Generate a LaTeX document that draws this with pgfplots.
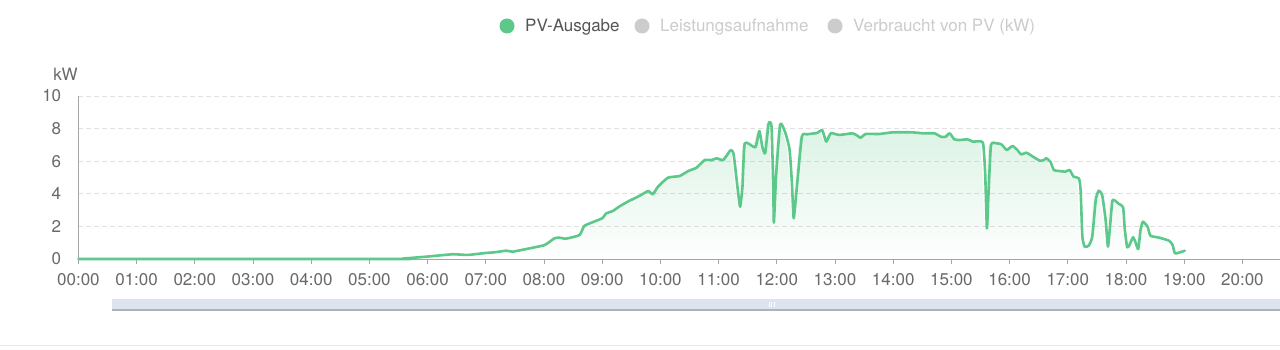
\documentclass[border=0pt]{standalone}
\usepackage{pgfplots}
\pgfplotsset{compat=1.18}
\usepackage{pgfplotstable}
\usetikzlibrary{fadings}
\usepackage{fontspec}
\setmainfont{TeX Gyre Heros}
\definecolor{pvgreen}{RGB}{92,200,138}
\definecolor{axisgray}{RGB}{165,165,165}
\definecolor{labelgray}{RGB}{105,105,105}
\definecolor{gridgray}{RGB}{224,224,224}
\definecolor{leggray}{RGB}{204,204,204}
\definecolor{legtext}{RGB}{85,85,85}
\definecolor{sliderfill}{RGB}{222,227,240}
\definecolor{sliderline}{RGB}{175,178,185}

\pgfplotstableread{
h v
0 0
5.50 0
5.56 0.02
6.00 0.15
6.43 0.29
6.69 0.25
7.00 0.37
7.15 0.41
7.35 0.51
7.46 0.45
7.75 0.65
8.00 0.84
8.06 0.96
8.18 1.27
8.26 1.31
8.38 1.25
8.61 1.47
8.69 2.02
8.83 2.25
9.00 2.50
9.07 2.80
9.18 2.94
9.29 3.21
9.44 3.52
9.64 3.87
9.79 4.17
9.87 3.97
9.96 4.44
10.13 4.99
10.33 5.09
10.48 5.40
10.62 5.60
10.76 6.07
10.88 6.07
10.97 6.18
11.08 6.07
11.21 6.69
11.26 6.38
11.33 4.23
11.37 3.21
11.41 4.44
11.45 7.10
11.63 6.85
11.70 7.85
11.75 6.89
11.80 6.48
11.86 8.32
11.91 8.12
11.94 4.23
11.95 2.23
11.99 5.26
12.06 8.28
12.15 7.71
12.22 6.69
12.26 4.64
12.29 2.50
12.34 4.23
12.43 7.50
12.52 7.65
12.69 7.73
12.78 7.91
12.85 7.20
12.93 7.72
13.07 7.61
13.30 7.71
13.39 7.55
13.44 7.44
13.53 7.67
13.76 7.67
13.99 7.77
14.33 7.77
14.51 7.71
14.71 7.71
14.82 7.50
14.90 7.50
14.97 7.71
15.05 7.34
15.14 7.30
15.28 7.34
15.37 7.20
15.54 7.14
15.58 5.26
15.61 1.88
15.64 4.23
15.68 6.99
15.77 7.10
15.86 7.03
15.95 6.69
16.05 6.93
16.13 6.69
16.20 6.42
16.29 6.52
16.40 6.28
16.52 6.03
16.59 6.07
16.63 6.18
16.70 5.97
16.76 5.46
16.85 5.40
16.96 5.36
17.03 5.46
17.10 5.05
17.19 4.95
17.22 4.23
17.25 1.37
17.29 0.76
17.36 0.82
17.42 1.37
17.48 3.62
17.53 4.19
17.59 3.93
17.65 2.39
17.69 0.76
17.73 2.19
17.77 3.62
17.88 3.37
17.95 3.17
17.98 1.78
18.02 0.72
18.06 0.86
18.12 1.33
18.16 1.06
18.21 0.61
18.25 1.78
18.29 2.29
18.37 1.98
18.42 1.43
18.57 1.31
18.74 1.12
18.80 0.86
18.84 0.35
18.91 0.39
19.01 0.51
}\pvdata

\begin{document}
\fontsize{17}{20}\selectfont
\begin{tikzpicture}
\fill[white] (0pt,0pt) rectangle (1280pt,-350pt);
\path[use as bounding box] (0pt,0pt) rectangle (1280pt,-350pt);

\begin{axis}[
  at={(78.4pt,-259pt)}, anchor=south west,
  scale only axis, width=1201.6pt, height=163pt,
  xmin=0, xmax=20.646, ymin=0, ymax=10,
  separate axis lines,
  axis x line*=bottom, axis y line*=left,
  axis line style={axisgray, line width=1pt, -},
  xtick={0,1,...,20},
  xticklabels={00:00,01:00,02:00,03:00,04:00,05:00,06:00,07:00,08:00,09:00,10:00,11:00,12:00,13:00,14:00,15:00,16:00,17:00,18:00,19:00,20:00},
  ytick={0,2,...,10},
  ymajorgrids,
  grid style={gridgray, dash pattern=on 5pt off 3pt, line width=0.9pt},
  tick align=outside,
  major tick length=5pt,
  xtick style={axisgray, line width=1pt},
  ytick style={draw=none},
  tick label style={text=labelgray, font=\fontsize{17}{20}\selectfont},
  xticklabel style={anchor=north, inner sep=0pt, yshift=-9pt},
  yticklabel style={anchor=east, inner sep=0pt, xshift=-12pt},
  /pgf/number format/assume math mode=true,
  clip=false,
]
\addplot[draw=none, fill=pvgreen, fill opacity=0.22, path fading=south] table[x=h, y=v] {\pvdata} \closedcycle;
\addplot[pvgreen, line width=2.6pt, smooth, tension=0.3, line join=round, line cap=round] table[x=h, y=v] {\pvdata};
\end{axis}

% y axis name
\node[anchor=base, inner sep=0pt, text=labelgray] at (65.5pt,-81pt) {kW};

% legend
\fill[pvgreen] (507pt,-26pt) circle (7.5pt);
\node[anchor=base west, inner sep=0pt, text=legtext] at (525pt,-32pt) {PV-Ausgabe};
\fill[leggray] (642pt,-26pt) circle (7.5pt);
\node[anchor=base west, inner sep=0pt, text=leggray] at (660pt,-32pt) {Leistungsaufnahme};
\fill[leggray] (835pt,-26pt) circle (7.5pt);
\node[anchor=base west, inner sep=0pt, text=leggray] at (853pt,-32pt) {Verbraucht von PV (kW)};

% data zoom slider
\fill[sliderfill] (111.7pt,-299.3pt) rectangle (1280pt,-310pt);
\draw[sliderline, line width=1.2pt] (111.7pt,-310pt) -- (1280pt,-310pt);
\foreach \xx in {769.5,771.8,774.1}{
  \draw[white, line width=0.8pt] (\xx pt,-301.7pt) -- (\xx pt,-306.7pt);
}
% bottom rule
\draw[gray!18, line width=1.5pt] (0pt,-345.3pt) -- (1280pt,-345.3pt);
\end{tikzpicture}
\end{document}
